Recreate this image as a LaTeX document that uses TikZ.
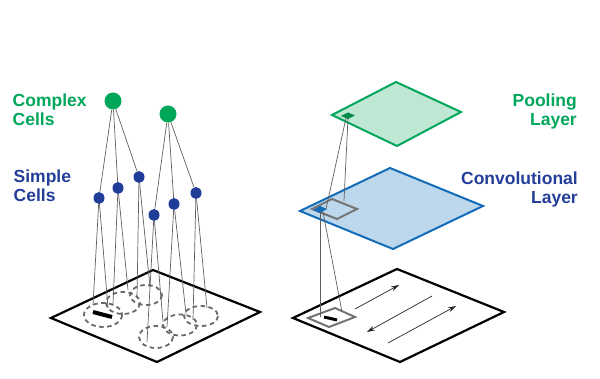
\documentclass[tikz,border=0pt]{standalone}
\usepackage{fontspec}
\setmainfont{Liberation Sans}
\usetikzlibrary{arrows.meta,shapes.geometric}
\definecolor{cgreen}{RGB}{0,166,90}
\definecolor{pfill}{RGB}{191,232,212}
\definecolor{cblue}{RGB}{18,108,184}
\definecolor{cfill}{RGB}{189,215,236}
\definecolor{tblue}{RGB}{35,62,152}
\definecolor{sblue}{RGB}{32,62,152}
\definecolor{dgray}{RGB}{115,115,115}
\definecolor{rgray}{RGB}{105,105,105}
\definecolor{lgray}{RGB}{95,95,95}
\begin{document}
\begin{tikzpicture}[x=1pt,y=-1pt,
  label/.style={font=\fontsize{17.5}{19.5}\selectfont\bfseries, inner sep=0pt},
  board/.style={draw=black, line width=2.2pt, line join=miter},
  rf/.style={draw=rgray, line width=1.8pt, dash pattern=on 4.5pt off 3.5pt},
  wire/.style={draw=lgray, line width=0.7pt},
  complexcell/.style={circle, fill=cgreen, inner sep=0pt, minimum size=17pt},
  simplecell/.style={ellipse, fill=sblue, inner sep=0pt, minimum width=11pt, minimum height=12pt},
  ptr/.style={draw=black!85, line width=0.7pt, -{Stealth[length=8pt,width=5pt]}},
  win/.style={draw=dgray, line width=2pt, line join=miter},
]
\path[use as bounding box] (0,0) rectangle (600,379);

% ---------- left: retina board ----------
\draw[board] (51,318) -- (153,270) -- (260,312) -- (157,362) -- cycle;
\draw[rf] (103,315) ellipse [x radius=19, y radius=12];
\draw[rf] (123,303) ellipse [x radius=17, y radius=11];
\draw[rf] (146,295) ellipse [x radius=16, y radius=10];
\draw[rf] (156,337) ellipse [x radius=17, y radius=11];
\draw[rf] (180,325) ellipse [x radius=17, y radius=10.5];
\draw[rf] (201,316) ellipse [x radius=17, y radius=10];
\draw[line width=4pt] (93,312) -- (112,317);

\coordinate (p1a) at (93,305);  \coordinate (p1b) at (108,308);
\coordinate (p2a) at (113,304); \coordinate (p2b) at (128,290);
\coordinate (p3a) at (137,298); \coordinate (p3b) at (150,287);
\coordinate (p4a) at (147,342); \coordinate (p4b) at (163,322);
\coordinate (p5a) at (167,327); \coordinate (p5b) at (186,314);
\coordinate (p6a) at (193,320); \coordinate (p6b) at (207,308);

\node[complexcell] (c1) at (113,101) {};
\node[complexcell] (c2) at (168,114) {};
\node[simplecell] (s1) at (99,198) {};
\node[simplecell] (s2) at (118,188) {};
\node[simplecell] (s3) at (139,177) {};
\node[simplecell] (s4) at (154,215) {};
\node[simplecell] (s5) at (174,204) {};
\node[simplecell] (s6) at (196,193) {};

\foreach \s in {1,2,3} { \draw[wire] (c1) -- (s\s); }
\foreach \s in {4,5,6} { \draw[wire] (c2) -- (s\s); }
\foreach \s in {1,...,6} {
  \draw[wire] (s\s) -- (p\s a);
  \draw[wire] (s\s) -- (p\s b);
}

\node[label, text=cgreen, align=left, anchor=north west] (tcx) at (12.5,93.5) {Complex\\Cells};
\node[label, text=tblue, align=left, anchor=north west] (tsc) at (13.5,169.5) {Simple\\Cells};

% ---------- right: CNN ----------
\draw[board] (293,318) -- (397,269) -- (504,312) -- (400,362) -- cycle;
\draw[ptr] (355,309) -- (399,285);
\draw[ptr] (432,296) -- (367,332);
\draw[ptr] (388,343) -- (456,306);
\draw[win] (308,318) -- (335,308) -- (355,317) -- (329,327) -- cycle;
\draw[line width=3pt] (324,317) -- (337,320);

\draw[draw=cblue, fill=cfill, line width=2pt, line join=miter] (300,211) -- (390,168) -- (483,206) -- (393,249) -- cycle;
\draw[win] (312,209) -- (332,199) -- (357,209) -- (337,219) -- cycle;
\fill[cblue] (313,210) -- (320,206) -- (327,209) -- (320,213) -- cycle;

\draw[draw=cgreen, fill=pfill, line width=2pt, line join=miter] (332,115) -- (396,82) -- (461,112) -- (397,146) -- cycle;
\fill[cgreen!85!black] (341,116) -- (348,112.5) -- (355,115.5) -- (348,119) -- cycle;

\coordinate (pm1) at (346,118); \coordinate (pm2) at (348,118);
\coordinate (cw1) at (326,209); \coordinate (cw2) at (344,201);
\coordinate (cm1) at (320,212); \coordinate (cm2) at (323,212);
\coordinate (iw1) at (320,317); \coordinate (iw2) at (342,312);
\draw[wire] (pm1) -- (cw1);
\draw[wire] (pm2) -- (cw2);
\draw[wire] (cm1) -- (iw1);
\draw[wire] (cm2) -- (iw2);

\node[label, text=cgreen, align=right, anchor=north east] (tpl) at (577,93.5) {Pooling\\Layer};
\node[label, text=tblue, align=right, anchor=north east] (tcl) at (578,171.5) {Convolutional\\Layer};
\end{tikzpicture}
\end{document}
